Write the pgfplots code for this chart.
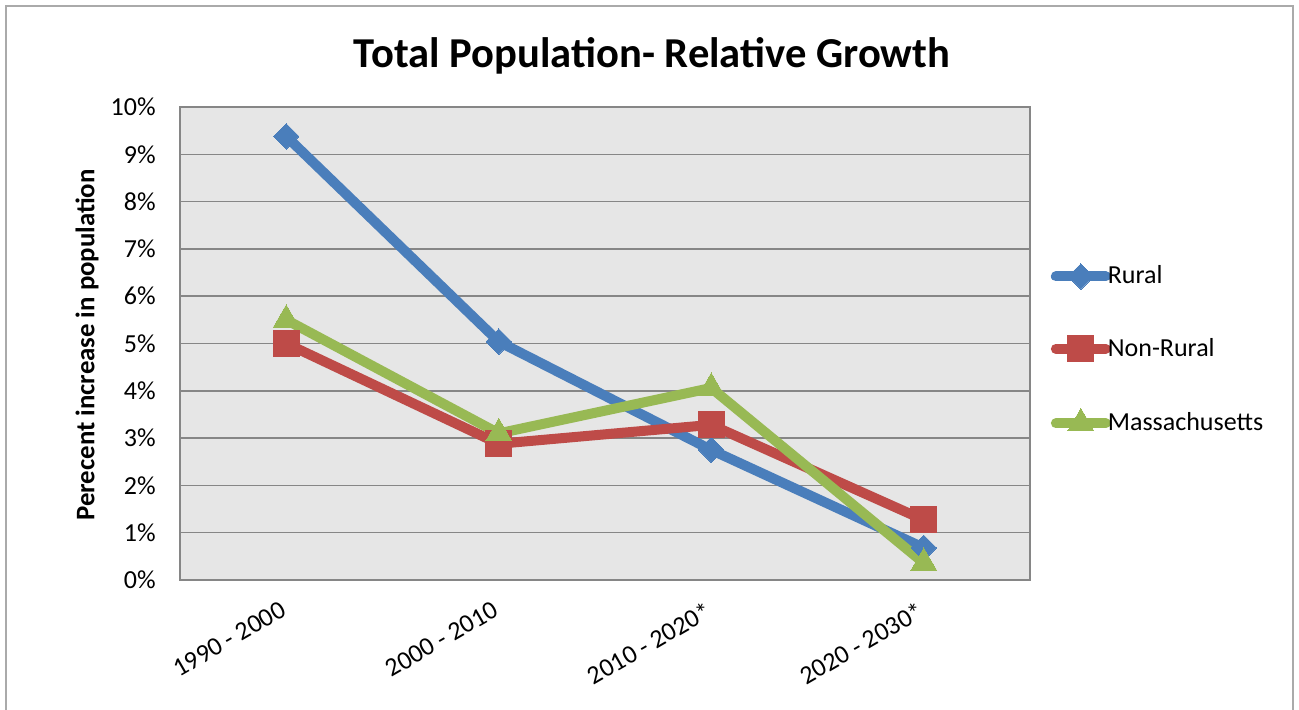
\documentclass[border=0pt]{standalone}
\usepackage{fontspec}
\setmainfont{Carlito}
\usepackage{pgfplots}
\pgfplotsset{compat=1.18}

\definecolor{rural}{HTML}{4A7EBB}
\definecolor{nonrural}{HTML}{BE4B48}
\definecolor{mass}{HTML}{98B954}
\definecolor{plotbg}{HTML}{E6E6E6}
\definecolor{gridgray}{HTML}{868686}

\begin{document}
\begin{tikzpicture}
% 1 px of the reference = 0.5pt
\useasboundingbox (0,0) rectangle (649.5pt,354.5pt);
\draw[gridgray!70, line width=0.8pt] (3pt,-5pt) rectangle (646.5pt,351.5pt);
\node[font=\fontsize{21.3}{25}\selectfont\bfseries] at (326pt,326.5pt) {Total Population- Relative Growth};
\begin{axis}[
  at={(90pt,64.5pt)}, anchor=south west,
  scale only axis, width=425pt, height=236.5pt,
  xmin=-0.5, xmax=3.5, ymin=0, ymax=10,
  xtick={0,1,2,3},
  xticklabels={1990 - 2000, 2000 - 2010, 2010 - 2020*, 2020 - 2030*},
  ytick={0,1,...,10},
  yticklabel={\pgfmathprintnumber{\tick}\%},
  /pgf/number format/assume math mode=true,
  major tick length=0pt,
  tick label style={font=\fontsize{13}{15}\selectfont},
  yticklabel style={inner sep=0pt, xshift=-12pt},
  xticklabel style={xshift=-3.5pt, yshift=-10pt, rotate=30, anchor=north east, inner sep=0pt},
  ylabel={Perecent increase in population},
  ylabel style={at={(rel axis cs:0,0.497)}, yshift=46.5pt, anchor=center,
    font=\fontsize{13.4}{15}\selectfont\bfseries},
  axis background/.style={fill=plotbg},
  ymajorgrids, grid style={gridgray, line width=0.75pt},
  axis line style={gridgray, line width=0.8pt},
  legend style={at={(rel axis cs:1.017,0.678)}, anchor=north west, draw=none, fill=none,
    font=\fontsize{13}{15}\selectfont, row sep=23.3pt, column sep=-2.5pt,
    nodes={inner sep=1pt}},
  legend cell align=left,
  legend image code/.code={%
    \draw[#1, line cap=round, mark repeat=2, mark phase=2]
      plot coordinates {(0pt,0pt) (12.5pt,0pt) (25pt,0pt)};},
  every axis plot/.append style={line width=5pt, line join=round},
]
\addplot[rural, mark=square*, mark size=4.5pt, mark options={rotate=45, line width=0pt}]
  coordinates {(0,9.38) (1,5.04) (2,2.75) (3,0.68)};
\addlegendentry{Rural}
\addplot[nonrural, mark=square*, mark size=6.5pt, mark options={line width=0pt}]
  coordinates {(0,5.0) (1,2.88) (2,3.28) (3,1.27)};
\addlegendentry{Non-Rural}
\addplot[mass, mark=triangle*, mark size=7.5pt, mark options={line width=0pt}]
  coordinates {(0,5.5) (1,3.1) (2,4.06) (3,0.36)};
\addlegendentry{Massachusetts}
\end{axis}
\end{tikzpicture}
\end{document}
